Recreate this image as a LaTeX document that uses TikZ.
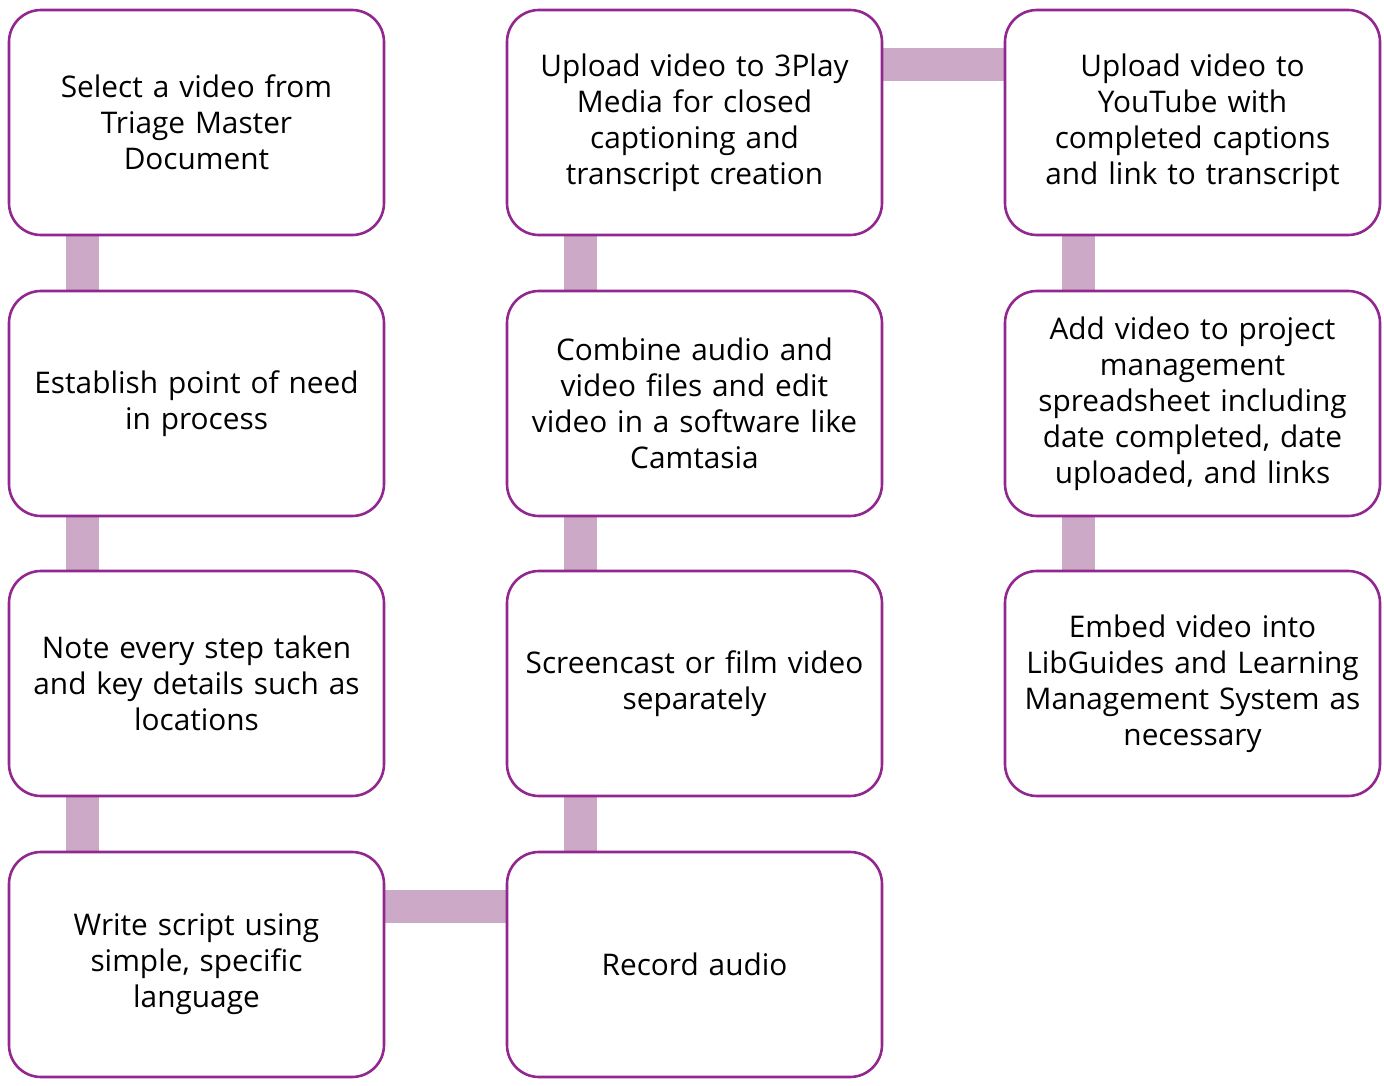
\documentclass[tikz,border=0pt]{standalone}
\usepackage{fontspec}
\setmainfont{Open Sans}
\usetikzlibrary{backgrounds}
\definecolor{boxline}{HTML}{92278F}
\definecolor{barfill}{HTML}{CCA9C7}
\begin{document}
\begin{tikzpicture}[x=1pt,y=-1pt,
  stepbox/.style={draw=boxline, line width=2.6pt, fill=white, rounded corners=32pt,
    minimum width=375pt, minimum height=225pt, text width=368pt, align=center,
    inner sep=0pt, font=\fontsize{29.8}{36}\selectfont},
  bar/.style={draw=barfill, line width=33pt}]
\useasboundingbox (0,0) rectangle (1384,1086);
% process steps
\node[stepbox] (s1) at (196.5,122.5) {Select a video from\\Triage Master\\Document};
\node[stepbox] (s2) at (196.5,403.5) {Establish point of need\\in process};
\node[stepbox] (s3) at (196.5,683.5) {Note every step taken\\and key details such as\\locations};
\node[stepbox] (s4) at (196.5,964.5) {Write script using\\simple, specific\\language};
\node[stepbox] (s5) at (694.5,964.5) {Record audio};
\node[stepbox] (s6) at (694.5,683.5) {Screencast or film video\\separately};
\node[stepbox] (s7) at (694.5,403.5) {Combine audio and\\video files and edit\\video in a software like\\Camtasia};
\node[stepbox] (s8) at (694.5,122.5) {Upload video to 3Play\\Media for closed\\captioning and\\transcript creation};
\node[stepbox] (s9) at (1192.5,122.5) {Upload video to\\YouTube with\\completed captions\\and link to transcript};
\node[stepbox] (s10) at (1192.5,403.5) {Add video to project\\management\\spreadsheet including\\date completed, date\\uploaded, and links};
\node[stepbox] (s11) at (1192.5,683.5) {Embed video into\\LibGuides and Learning\\Management System as\\necessary};
% connecting bars, behind the boxes
\begin{scope}[on background layer]
\foreach \a/\b in {s1/s2,s2/s3,s3/s4,s6/s5,s7/s6,s8/s7,s9/s10,s10/s11}
  \draw[bar] ([xshift=75pt]\a.south west) -- ([xshift=75pt]\b.north west);
\draw[bar] ([yshift=58.5pt]s4.east) -- ([yshift=58.5pt]s5.west);
\draw[bar] ([yshift=58pt]s8.east) -- ([yshift=58pt]s9.west);
\end{scope}
\end{tikzpicture}
\end{document}
